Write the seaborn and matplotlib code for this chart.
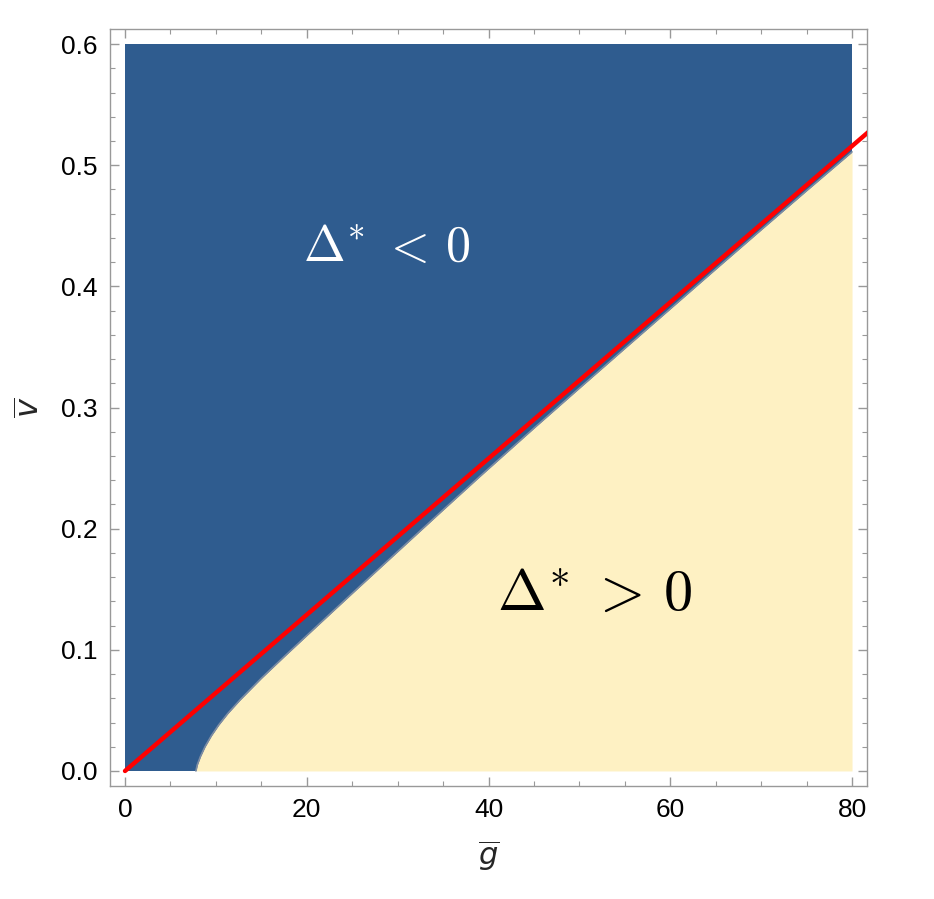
import numpy as np
import pandas as pd
import matplotlib
matplotlib.use("Agg")
import matplotlib.pyplot as plt
from matplotlib.ticker import MultipleLocator
import seaborn as sns

# region boundary Delta* = 0
boundary_g = [7.8, 7.95, 8.3, 8.8, 9.5, 10.3, 11.3, 12.65, 15.0, 17.5, 20.0, 22.9,
              25.0, 28.0, 31.5, 35.0, 39.0, 45.0, 50.0, 55.0, 60.0, 65.0, 70.0, 75.0, 80.0]
boundary_v = [0.0, 0.005, 0.012, 0.020, 0.0291, 0.0379, 0.0474, 0.0586, 0.0765, 0.0943,
              0.1118, 0.132, 0.1466, 0.1673, 0.1914, 0.2155, 0.2428, 0.283, 0.316,
              0.3488, 0.3815, 0.4142, 0.4467, 0.479, 0.511]

# red reference line
line_g = [0.0, 82.0]
line_v = [0.0, 0.5287]

# plot domain
g_range = [0.0, 80.0]
v_range = [0.0, 0.6]

blue = "#2F5C8F"
yellow = "#FEF1C3"

sns.set_theme(style="ticks")
plt.rcParams['font.family'] = ['Liberation Sans', 'DejaVu Sans']

fig = plt.figure(figsize=(9.34, 8.99), dpi=100)
ax = fig.add_axes([0.1178, 0.1257, 0.8105, 0.842])

df_b = pd.DataFrame({"g": boundary_g, "v": boundary_v})
df_l = pd.DataFrame({"g": line_g, "v": line_v})

# blue region (Delta* < 0) over the whole domain, then yellow below boundary
ax.fill_between(g_range, v_range[0], v_range[1], color=blue, lw=0, zorder=1)
ax.fill_between(df_b["g"], 0, df_b["v"], color=yellow, lw=0, zorder=2)
sns.lineplot(data=df_b, x="g", y="v", ax=ax, color="#7D8CA3", lw=1.2, zorder=3,
             sort=False, estimator=None)
sns.lineplot(data=df_l, x="g", y="v", ax=ax, color="#FF0000", lw=3.2, zorder=4,
             sort=False, estimator=None, solid_capstyle="round")

ax.set_xlim(-1.65, 81.65)
ax.set_ylim(-0.0124, 0.6124)

ax.xaxis.set_major_locator(MultipleLocator(20))
ax.xaxis.set_minor_locator(MultipleLocator(5))
ax.yaxis.set_major_locator(MultipleLocator(0.1))
ax.yaxis.set_minor_locator(MultipleLocator(0.02))
ax.yaxis.set_major_formatter(matplotlib.ticker.FormatStrFormatter('%.1f'))

ax.tick_params(which="both", direction="in", top=True, right=True, color="#999999",
               labelsize=19, labelcolor="black")
ax.tick_params(which="major", length=6.5, width=1.0, pad=9)
ax.tick_params(which="minor", length=3.5, width=0.8)
for s in ax.spines.values():
    s.set_color("#999999")
    s.set_linewidth(1.0)

ax.set_xlabel(r'$\overline{g}$', fontsize=22, labelpad=12)
ax.set_ylabel(r'$\overline{v}$', fontsize=23, labelpad=10)

ax.text(19.6, 0.421, r'$\Delta^{\!*}\,<\,0$', color="white", fontsize=36,
        ha="left", va="baseline", math_fontfamily="cm", zorder=5)
ax.text(40.9, 0.133, r'$\Delta^{\!*}\,>\,0$', color="black", fontsize=42,
        ha="left", va="baseline", math_fontfamily="cm", zorder=5)

fig.savefig("out.png", dpi=100)
